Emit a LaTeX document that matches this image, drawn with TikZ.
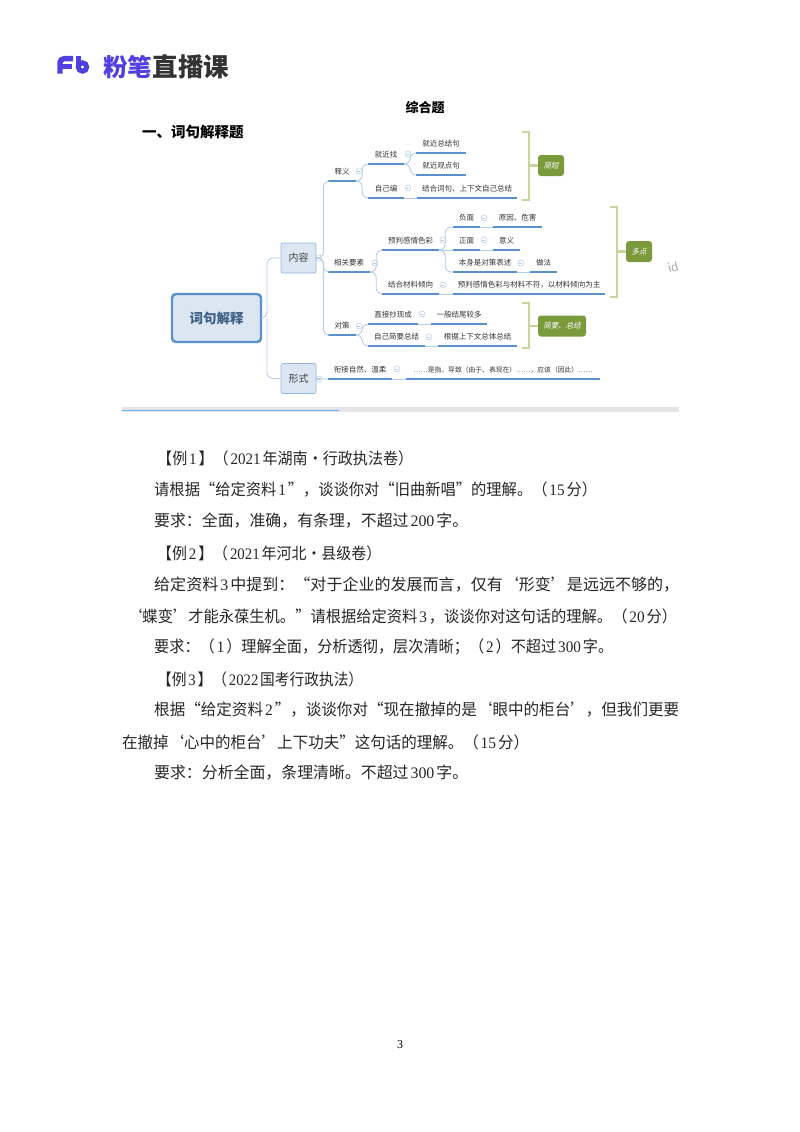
\documentclass[tikz,border=0pt]{standalone}
\usepackage{graphicx}
\usepackage{fontspec}
\setmainfont{Noto Sans CJK SC}
\newfontfamily\latfont{Liberation Serif}
\newfontfamily\tagfont[FakeSlant=0.2]{Noto Sans CJK SC}
\newcommand*{\lat}[1]{\kern2pt{\latfont #1}\kern2pt}
\definecolor{ulblue}{HTML}{5B90CF}
\definecolor{linkblue}{HTML}{B4CDEA}
\definecolor{boxfill}{HTML}{DCE6F2}
\definecolor{boxline}{HTML}{97B8DE}
\definecolor{bracegreen}{HTML}{C6D69C}
\definecolor{tagfill}{HTML}{7A9A3C}
\definecolor{logoblue}{HTML}{5040E0}
\definecolor{roottext}{HTML}{3F6085}
\tikzset{
    topic/.style={inner sep=0pt,minimum height=18pt,font=\fontsize{7.5}{9}\selectfont,text=black!80},
    underl/.style={ulblue,line width=1.4pt},
    link/.style={linkblue,line width=0.9pt,rounded corners=6pt},
    fold/.style={circle,draw=linkblue,inner sep=0pt,minimum size=6pt,line width=0.5pt},
    mainbox/.style={draw=boxline,fill=boxfill,rounded corners=2pt,line width=0.8pt,minimum width=35pt,minimum height=30pt,inner sep=0pt,font=\fontsize{10}{12}\selectfont,text=black!75},
    rootbox/.style={draw=ulblue,fill=boxfill,rounded corners=4pt,line width=2.4pt,minimum width=89pt,minimum height=48pt,font=\bfseries\fontsize{13.5}{16}\selectfont,text=roottext},
    tag/.style={fill=tagfill,rounded corners=3pt,minimum height=21pt,inner sep=0pt,text=white,font=\tagfont\fontsize{7.5}{9}\selectfont},
    brace/.style={bracegreen,line width=2.4pt},
    bodyline/.style={anchor=west,inner sep=0pt,font=\fontsize{16}{18}\selectfont,text=black!85},
}
\begin{document}
\begin{tikzpicture}[x=1pt,y=-1pt]
    \useasboundingbox (0,0) rectangle (800,1132);

    % logo
    \draw [logoblue,line width=5.4pt,rounded corners=4pt] (60,73.5) -- (60,58.7) -- (73,58.7) ;
    \draw [logoblue,line width=5pt] (60,67) -- (72,67) ;
    \draw [logoblue,line width=5pt] (78,56) -- (78,67) ;
    \draw [logoblue,line width=5pt] (82.5,67) circle (4.2) ;
    \node [inner sep=0pt,anchor=west,text=logoblue,font=\bfseries\fontsize{24.5}{26}\selectfont] (logoa) at (103,67) {粉笔};
    \node [inner sep=0pt,anchor=west,text=black!80,font=\bfseries\fontsize{25.5}{26}\selectfont] (logob) at (logoa.east) {直播课};

    % headings
    \node [inner sep=0pt,font=\bfseries\fontsize{13}{15}\selectfont] (heada) at (425,107) {综合题};
    \node [inner sep=0pt,anchor=west,font=\bfseries\fontsize{14.5}{17}\selectfont] (headb) at (142,132) {一、词句解释题};

    % map boxes
    \node [rootbox] (root) at (216.5,318) {词句解释};
    \node [mainbox] (content) at (298.5,258) {内容};
    \node [mainbox] (form) at (298.5,378.5) {形式};

    % topics: name / left / right / line / text
    \foreach \nm/\xa/\xb/\yb/\txt in {
        shiyi/328/356/181/释义, xiangguan/328/370/272/相关要素, duice/328/356/335/对策,
        xianjie/328/392/379/衔接自然、温柔,
        jiujin/368/404/164/就近找, zibian/368/404/198/自己编,
        jiea/416/466/153/就近总结句, jieb/416/466/175/就近观点句, jiec/417/517/198/结合词句、上下文自己总结,
        yupan/382/439/250/预判感情色彩, jiehe/382/439/294/结合材料倾向,
        fumian/453/480/227/负面, zheng/453/480/250/正面, benshen/453/517/272/本身是对策表述,
        yuanyin/493/542/227/原因、危害, yiyi/493/520/250/意义, zuofa/530/557/272/做法,
        buf/453/605/294/预判感情色彩与材料不符，以材料倾向为主,
        zhijie/368/418/324/直接抄现成, jianyao/368/425/346/自己简要总结,
        jiewei/431/487/324/一般结尾较多, genju/438/517/346/根据上下文总体总结,
        shizhi/406/600/379/{\fontsize{6.8}{9}\selectfont ……是指，导致（由于、表现在）……，应该（因此）……}} {
        \node [topic,anchor=south,minimum width={(\xb-\xa)*1pt}] (\nm) at ({(\xa+\xb)/2},\yb) {\txt};
        \draw [underl] (\nm.south west) -- (\nm.south east) ;
    }

    % connectors
    \coordinate (trunk) at (267,318);
    \draw [link] (root.east) -- (trunk) |- (content.west) ;
    \draw [link] (trunk) |- (form.west) ;
    \foreach \b in {shiyi,xiangguan,duice} {
        \draw [link] (content.east) -- ++(7,0) |- (\b.south west) ;
    }
    \draw [link] (form.east) -- (xianjie.south west) ;
    \foreach \a/\b in {shiyi/jiujin,shiyi/zibian,jiujin/jiea,jiujin/jieb,xiangguan/yupan,xiangguan/jiehe,
        yupan/fumian,yupan/benshen,duice/zhijie,duice/jianyao} {
        \draw [link] (\a.south east) -- ++(6,0) |- (\b.south west) ;
    }
    \foreach \a/\b in {zibian/jiec,yupan/zheng,jiehe/buf,fumian/yuanyin,zheng/yiyi,benshen/zuofa,
        zhijie/jiewei,jianyao/genju,xianjie/shizhi} {
        \draw [link] (\a.south east) -- (\b.south west) ;
    }

    % fold marks
    \foreach \i/\x/\y in {a/319/258,b/319/379,c/359/171,d/375/263,e/359/326,f/397/369,g/408/154,h/408/188,
        i/443/240,j/443/285,k/484/218,l/484/240,m/521/263,n/422/314,o/429/337} {
        \node [fold] (fold\i) at (\x,\y) {};
        \draw [linkblue,line width=0.5pt] (fold\i.west) ++(1.5,0) -- ++(3,0) ;
    }

    % tags and brackets
    \node [tag,minimum width=26pt] (tagshort) at (551,165.5) {简短};
    \node [tag,minimum width=26pt] (tagmany) at (639,251.5) {多点};
    \node [tag,minimum width=48pt] (tagsum) at (562,326) {简要、总结};
    \coordinate (bracea) at (522,132);
    \coordinate (braceb) at (522,200);
    \coordinate (bracec) at (610,207);
    \coordinate (braced) at (610,297);
    \coordinate (bracee) at (522,303);
    \coordinate (bracef) at (522,348);
    \draw [brace] (bracea) -- ++(7,0) |- (braceb) ;
    \draw [brace] (bracec) -- ++(7,0) |- (braced) ;
    \draw [brace] (bracee) -- ++(7,0) |- (bracef) ;
    \draw [brace] (tagshort.west) -- ++(-9,0) ;
    \draw [brace] (tagmany.west) -- ++(-9,0) ;
    \draw [brace] (tagsum.west) -- ++(-9,0) ;
    \node [rotate=15,text=black!35,font=\fontsize{12}{14}\selectfont] (idmark) at (673,267) {id};

    % scroll bar
    \fill [black!10] (122,407) rectangle (679,411.5) ;
    \draw [blue!50!cyan!60,line width=1pt] (122,410.5) -- (339,410.5) ;

    % body text: name / left / right / y / text
    \foreach \nm/\xa/\xb/\ya/\txt in {
        lineA/157/413/458/【例\lat{1}】（\lat{2021}年湖南·行政执法卷）,
        lineB/154/597/490/请根据“给定资料\lat{1}”，谈谈你对“旧曲新唱”的理解。（\lat{15}分）,
        lineC/154/468/521/要求：全面，准确，有条理，不超过\lat{200}字。,
        lineD/157/381/553/【例\lat{2}】（\lat{2021}年河北·县级卷）,
        lineE/154/679/585/给定资料\lat{3}中提到：“对于企业的发展而言，仅有‘形变’是远远不够的，,
        lineF/127/677/616/‘蝶变’才能永葆生机。”请根据给定资料\lat{3}，谈谈你对这句话的理解。（\lat{20}分）,
        lineG/154/613/647/要求：（\lat{1}）理解全面，分析透彻，层次清晰；（\lat{2}）不超过\lat{300}字。,
        lineH/157/363/679/【例\lat{3}】（\lat{2022}国考行政执法）,
        lineI/154/679/710/根据“给定资料\lat{2}”，谈谈你对“现在撤掉的是‘眼中的柜台’，但我们更要,
        lineJ/122/529/742/在撤掉‘心中的柜台’上下功夫”这句话的理解。（\lat{15}分）,
        lineK/154/468/773/要求：分析全面，条理清晰。不超过\lat{300}字。} {
        \pgfmathsetlengthmacro{\linew}{(\xb-\xa)*1pt}
        \node [bodyline] (\nm) at (\xa,\ya) {\resizebox{\linew}{\height}{\txt}};
    }

    \node [inner sep=0pt,font=\latfont\fontsize{12}{14}\selectfont] (pagenum) at (400,1045) {3};
\end{tikzpicture}
\end{document}
